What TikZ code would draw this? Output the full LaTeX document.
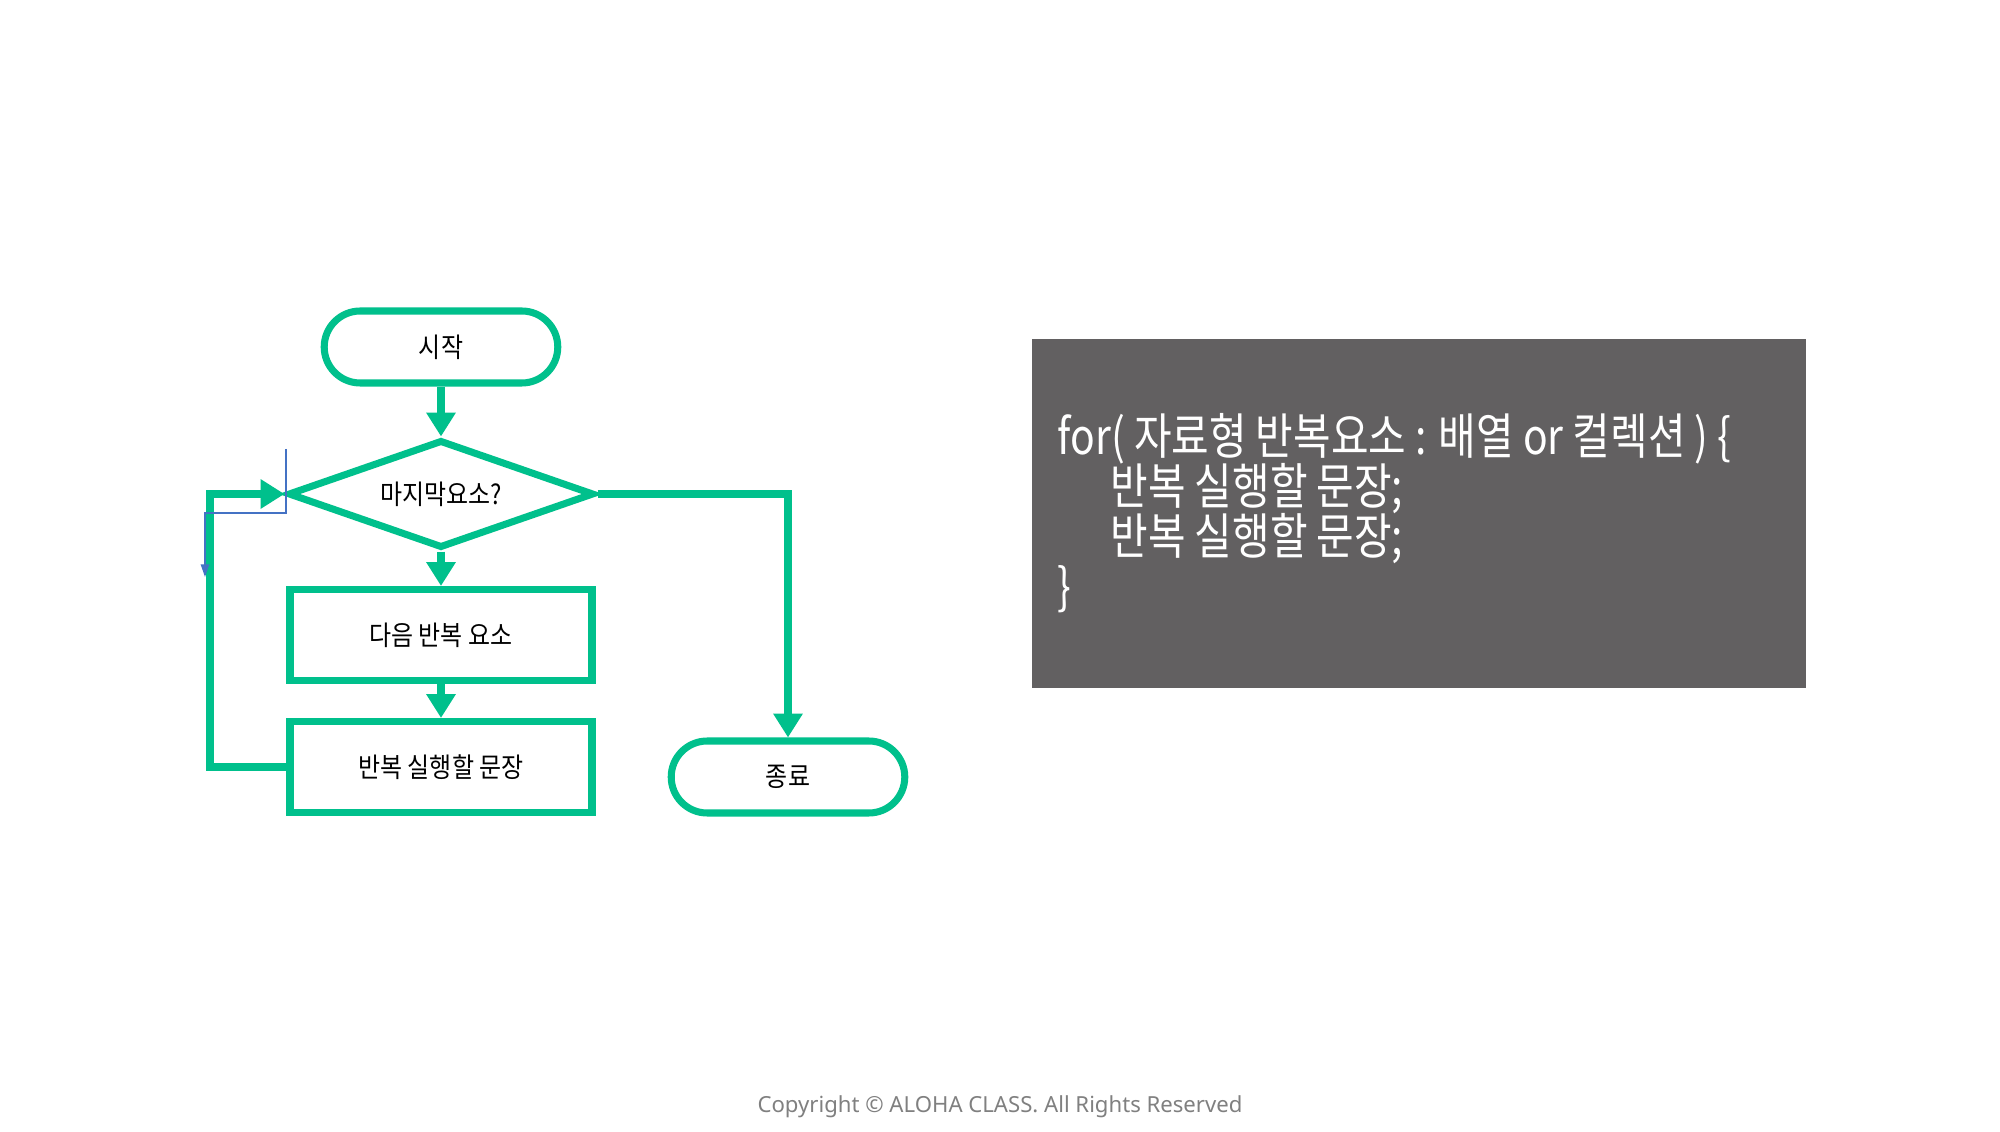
\documentclass[tikz,border=0pt]{standalone}
\usepackage{fontspec}
\usepackage{tikz}
\usetikzlibrary{shapes.geometric, shapes.misc, arrows.meta}
\setmainfont{Noto Sans}
\newfontfamily\krfont[FakeStretch=0.88]{Noto Sans CJK KR}
\newfontfamily\codefont[FakeStretch=0.83]{Noto Sans CJK KR}
\definecolor{flowgreen}{RGB}{0,192,140}
\definecolor{codegray}{RGB}{98,96,97}
\definecolor{guideblue}{RGB}{68,114,196}

\begin{document}
\begin{tikzpicture}[
  term/.style={draw=flowgreen, line width=2pt, rounded rectangle, minimum width=2.57cm, minimum height=0.72cm, font=\krfont\fontsize{7.75}{9}\selectfont},
  decision/.style={draw=flowgreen, line width=2pt, diamond, aspect=2.9, inner sep=0pt, minimum width=3.06cm, minimum height=1.08cm, font=\krfont\fontsize{7.75}{9}\selectfont},
  proc/.style={draw=flowgreen, line width=2pt, rectangle, minimum width=3.02cm, minimum height=0.91cm, font=\krfont\fontsize{7.75}{9}\selectfont},
  flow/.style={draw=flowgreen, line width=2pt, -{Triangle[width=8pt,length=6.8pt]}},
  codeline/.style={anchor=base west, text=white, inner sep=0pt, font=\codefont\fontsize{14}{16}\selectfont},
]
  \path[fill=white, use as bounding box] (0,0) rectangle (20,11.31);

  % flowchart
  \node[term] (start) at (4.41,7.84) {시작};
  \node[decision] (dec) at (4.41,6.37) {마지막요소?};
  \node[proc] (next) at (4.41,4.96) {다음 반복 요소};
  \node[proc] (body) at (4.41,3.64) {반복 실행할 문장};
  \node[term] (stop) at (7.88,3.54) {종료};
  \coordinate (back) at (2.10,3.64);

  \draw[flow] (start.south) -- (dec.north);
  \draw[flow] (dec.south) -- (next.north);
  \draw[flow] (next.south) -- (body.north);
  \draw[flow] (body.west) -- (back) |- (dec.west);
  \draw[flow] (dec.east) -| (stop.north);

  % thin guide line
  \coordinate (g1) at (2.86,6.82);
  \coordinate (g2) at (2.86,6.18);
  \coordinate (g3) at (2.05,6.18);
  \coordinate (g4) at (2.05,5.54);
  \draw[guideblue, line width=0.4pt, -{Triangle[width=2.4pt,length=3.6pt]}] (g1) -- (g2) -- (g3) -- (g4);

  % code box
  \node[fill=codegray, minimum width=7.74cm, minimum height=3.49cm, inner sep=0pt] (code) at (14.19,6.175) {};
  \node[codeline] (l1) at (10.57,6.76) {for( 자료형 반복요소 : 배열 or 컬렉션 ) \{};
  \node[codeline] (l2) at (11.10,6.26) {반복 실행할 문장;};
  \node[codeline] (l3) at (11.10,5.76) {반복 실행할 문장;};
  \node[codeline] (l4) at (10.57,5.26) {\}};

  \node[anchor=base, text=gray, font=\fontsize{6.3}{7}\selectfont] (copy) at (10.0,0.19) {Copyright © ALOHA CLASS. All Rights Reserved};
\end{tikzpicture}
\end{document}
